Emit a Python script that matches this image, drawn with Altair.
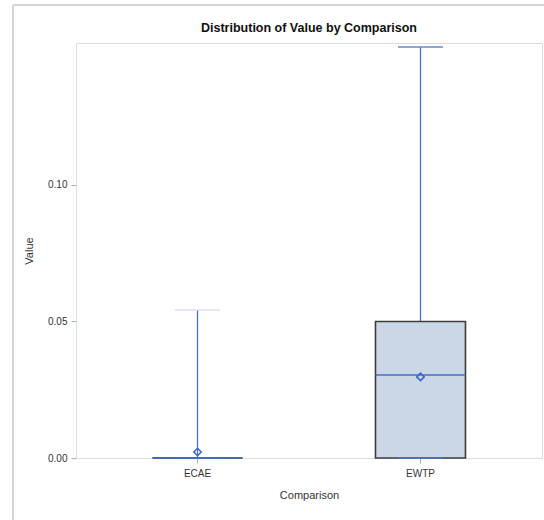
import altair as alt
import pandas as pd

# Summary statistics per comparison group
categories = ["ECAE", "EWTP"]
whisker_lo = [0.0, 0.0]
q1 = [0.0, 0.0]
median = [0.0, 0.0304]
q3 = [0.0, 0.05]
whisker_hi = [0.0542, 0.1505]
mean = [0.0022, 0.0297]
cap_color = ["#d3dff5", "#5b80d3"]

chart_title = "Distribution of Value by Comparison"

df = pd.DataFrame({
    "Comparison": categories,
    "lo": whisker_lo,
    "q1": q1,
    "median": median,
    "q3": q3,
    "hi": whisker_hi,
    "mean": mean,
    "cap": cap_color,
})

FONT = "Liberation Sans"
BLUE = "#4a74d2"
W, H = 466, 415

x = alt.X(
    "Comparison:N",
    title="Comparison",
    sort=categories,
    scale=alt.Scale(paddingInner=0, paddingOuter=0.045),
    axis=alt.Axis(labelAngle=0, labelFontSize=10, titleFontSize=11,
                  tickSize=5, labelPadding=5, titlePadding=11,
                  domain=False, tickColor="#b0b0b0",
                  labelColor="#333333", titleColor="#333333",
                  labelFont=FONT, titleFont=FONT, titleFontWeight="normal"),
)
yscale = alt.Scale(domain=[0, 0.152], nice=False, zero=True)
yaxis = alt.Axis(values=[0, 0.05, 0.10], format=".2f", grid=False,
                 labelFontSize=10, titleFontSize=11, tickSize=5, labelPadding=4,
                 domain=False, tickColor="#b0b0b0",
                 labelColor="#333333", titleColor="#333333",
                 labelFont=FONT, titleFont=FONT, titleFontWeight="normal",
                 titleX=-47, titleY=H / 2, titleAlign="center",
                 titleBaseline="middle")

base = alt.Chart(df)

whisker_up = base.mark_rule(color=BLUE, strokeWidth=1.3).encode(
    x=x, y=alt.Y("q3:Q", scale=yscale, axis=yaxis, title="Value"), y2="hi:Q")
whisker_down = base.mark_rule(color=BLUE, strokeWidth=1.3).encode(
    x=x, y=alt.Y("lo:Q"), y2="q1:Q")

cap_hi = base.mark_tick(size=45, thickness=2).encode(
    x=x, y="hi:Q", color=alt.Color("cap:N", scale=None))
cap_lo = base.mark_tick(size=45, thickness=2, color=BLUE).encode(x=x, y="lo:Q")

box = base.mark_bar(width=90, fill="#cbd6e6", stroke="#3c3c3c",
                    strokeWidth=1.6).encode(x=x, y="q1:Q", y2="q3:Q")

median_line = base.mark_tick(size=90, thickness=2, color="#3d68c8").encode(
    x=x, y="median:Q")

mean_pt = base.mark_point(shape="diamond", size=55, filled=False,
                          color="#3d68c8", strokeWidth=1.6, opacity=1).encode(
    x=x, y="mean:Q")

one = alt.Data(values=[{}])

# Chart heading, centred over the plot area
heading = alt.Chart(one).mark_text(
    font=FONT, fontSize=12.5, fontWeight="bold",
    color="#111111", align="center", baseline="alphabetic",
).encode(x=alt.value(W / 2), y=alt.value(-11), text=alt.value(chart_title))

# Light frame around the whole figure (left and top edges)
frame_left = alt.Chart(one).mark_rule(color="#d4d4d4", strokeWidth=2).encode(
    x=alt.value(-63), y=alt.value(-38), y2=alt.value(477))
frame_top = alt.Chart(one).mark_rule(color="#d4d4d4", strokeWidth=2).encode(
    x=alt.value(-63), x2=alt.value(470), y=alt.value(-38))

chart = alt.layer(
    whisker_up, whisker_down, box, cap_lo, cap_hi, median_line, mean_pt,
    heading, frame_left, frame_top,
).properties(
    width=W,
    height=H,
    padding={"left": 76, "top": 43, "right": 2, "bottom": 62},
    autosize="none",
).configure_view(
    stroke="#b4b4b4", strokeWidth=1.5
).configure(background="white")

chart.save("out.html", embed_options={"renderer": "svg", "actions": False})
